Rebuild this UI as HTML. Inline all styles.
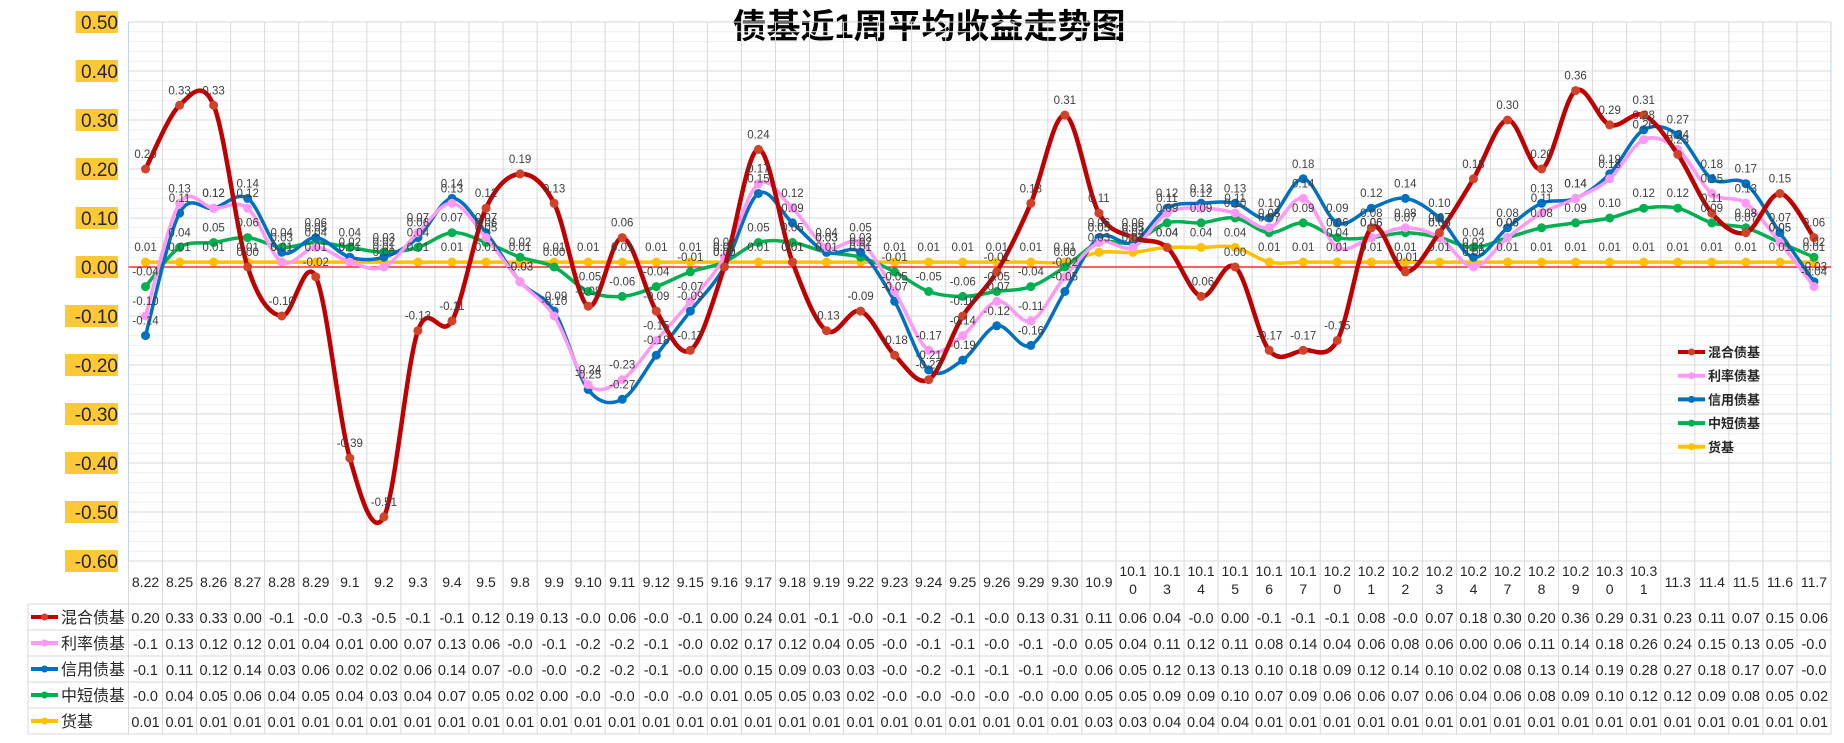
<!DOCTYPE html>
<html><head><meta charset="utf-8">
<style>
html,body{margin:0;padding:0;background:#fff;}
svg{display:block;font-family:"Liberation Sans","Noto Sans CJK SC",sans-serif;}
</style></head>
<body>
<svg id="chart" width="1844" height="743" viewBox="0 0 1844 743" xmlns="http://www.w3.org/2000/svg">
<text x="929" y="38" text-anchor="middle" font-size="34" font-weight="bold" fill="#000">债基近1周平均收益走势图</text>
<g id="grid"></g><g id="yaxis"></g><g id="lines"></g><g id="labels"></g><g id="table"></g><g id="legend"></g>
</svg>
<script>
const categories=["8.22","8.25","8.26","8.27","8.28","8.29","9.1","9.2","9.3","9.4","9.5","9.8","9.9","9.10","9.11","9.12","9.15","9.16","9.17","9.18","9.19","9.22","9.23","9.24","9.25","9.26","9.29","9.30","10.9","10.10","10.13","10.14","10.15","10.16","10.17","10.20","10.21","10.22","10.23","10.24","10.27","10.28","10.29","10.30","10.31","11.3","11.4","11.5","11.6","11.7"];
const seriesNames=["混合债基","利率债基","信用债基","中短债基","货基"];
const hybrid=[0.20,0.33,0.33,0.00,-0.10,-0.02,-0.39,-0.51,-0.13,-0.11,0.12,0.19,0.13,-0.08,0.06,-0.09,-0.17,0.00,0.24,0.01,-0.13,-0.09,-0.18,-0.23,-0.10,-0.01,0.13,0.31,0.11,0.06,0.04,-0.06,0.00,-0.17,-0.17,-0.15,0.08,-0.01,0.07,0.18,0.30,0.20,0.36,0.29,0.31,0.23,0.11,0.07,0.15,0.06];
const rate=[-0.10,0.13,0.12,0.12,0.01,0.04,0.01,0.00,0.07,0.13,0.06,-0.03,-0.10,-0.24,-0.23,-0.15,-0.07,0.02,0.17,0.12,0.04,0.05,-0.05,-0.17,-0.14,-0.07,-0.11,-0.02,0.05,0.04,0.11,0.12,0.11,0.08,0.14,0.04,0.06,0.08,0.06,0.00,0.06,0.11,0.14,0.18,0.26,0.24,0.15,0.13,0.05,-0.04];
const credit=[-0.14,0.11,0.12,0.14,0.03,0.06,0.02,0.02,0.06,0.14,0.07,-0.03,-0.09,-0.25,-0.27,-0.18,-0.09,0.00,0.15,0.09,0.03,0.03,-0.07,-0.21,-0.19,-0.12,-0.16,-0.05,0.06,0.05,0.12,0.13,0.13,0.10,0.18,0.09,0.12,0.14,0.10,0.02,0.08,0.13,0.14,0.19,0.28,0.27,0.18,0.17,0.07,-0.03];
const shortTerm=[-0.04,0.04,0.05,0.06,0.04,0.05,0.04,0.03,0.04,0.07,0.05,0.02,0.00,-0.05,-0.06,-0.04,-0.01,0.01,0.05,0.05,0.03,0.02,-0.01,-0.05,-0.06,-0.05,-0.04,0.00,0.05,0.05,0.09,0.09,0.10,0.07,0.09,0.06,0.06,0.07,0.06,0.04,0.06,0.08,0.09,0.10,0.12,0.12,0.09,0.08,0.05,0.02];
const money=[0.01,0.01,0.01,0.01,0.01,0.01,0.01,0.01,0.01,0.01,0.01,0.01,0.01,0.01,0.01,0.01,0.01,0.01,0.01,0.01,0.01,0.01,0.01,0.01,0.01,0.01,0.01,0.01,0.03,0.03,0.04,0.04,0.04,0.01,0.01,0.01,0.01,0.01,0.01,0.01,0.01,0.01,0.01,0.01,0.01,0.01,0.01,0.01,0.01,0.01];
const yTicks=[0.5,0.4,0.3,0.2,0.1,0,-0.1,-0.2,-0.3,-0.4,-0.5,-0.6];

const NS="http://www.w3.org/2000/svg";
const colors=["#C00000","#FF99F5","#0070C0","#00B050","#FFC000"];
const widths=[4.5,3.5,3.5,3.5,3.5];
const allSeries=[hybrid,rate,credit,shortTerm,money];
const slugs=["hybrid-bond","rate-bond","credit-bond","short-term-bond","money-fund"];
const L=128.5,CW=34.05,N=categories.length,R=L+CW*N;
const Y0=267,PX=490; // px per 1.0
function xs(i){return L+CW*(i+0.5);}
function ys(v){return Y0-v*PX;}
function mk(tag,attrs,parent,txt){const e=document.createElementNS(NS,tag);for(const k in attrs)e.setAttribute(k,attrs[k]);if(txt!==undefined)e.textContent=txt;parent.appendChild(e);return e;}
const grid=document.getElementById('grid'),yax=document.getElementById('yaxis'),lines=document.getElementById('lines'),labels=document.getElementById('labels'),table=document.getElementById('table'),legend=document.getElementById('legend');
const yTop=ys(yTicks[0]),yBot=ys(yTicks[yTicks.length-1]);
// minor grid
for(let v=-0.6;v<=0.5001;v+=0.02){const m=mk('line',{x1:L,x2:R,y1:ys(v),y2:ys(v),stroke:'#EFEFEF','stroke-width':1},grid);}
// major grid + y labels
yTicks.forEach(t=>{
  const g=mk('line',{x1:L,x2:R,y1:ys(t),y2:ys(t),stroke:'#D9D9D9','stroke-width':1},grid);
  
  
  const s=t.toFixed(2);
  const w=s.length*10.6;
  const bg=mk('rect',{x:118-w,y:ys(t)-11,width:w,height:22,fill:'#FFC837'},yax);
  
  
  const tx=mk('text',{x:118,y:ys(t)+7,'text-anchor':'end','font-size':19,fill:'#262626'},yax,s);
  
  
});
// vertical grid (plot + table)
const tableTop=yBot, catBottom=604, rowH=26, tableBottom=catBottom+rowH*5;
for(let i=0;i<=N;i++){const x=L+CW*i;const vl=mk('line',{x1:x,x2:x,y1:yTop,y2:tableBottom,stroke:'#D9D9D9','stroke-width':1},grid);}
mk('line',{x1:L,x2:L,y1:yTop,y2:yBot,stroke:'#BDD7EE','stroke-width':1},grid);
mk('line',{x1:R,x2:R,y1:yTop,y2:yBot,stroke:'#BDD7EE','stroke-width':1},grid);
// zero line
const z=mk('line',{x1:L,x2:R,y1:ys(0),y2:ys(0),stroke:'#FF0000','stroke-width':1.3},grid);


// table horizontal lines
[catBottom,catBottom+rowH,catBottom+2*rowH,catBottom+3*rowH,catBottom+4*rowH,tableBottom].forEach((y,k)=>{mk('line',{x1:k===0?28:L,x2:R,y1:y,y2:y,stroke:'#D9D9D9','stroke-width':1},table);});
mk('line',{x1:28,x2:R,y1:catBottom,y2:catBottom,stroke:'#D9D9D9'},table);
for(let k=0;k<=5;k++){mk('line',{x1:28,x2:L,y1:catBottom+rowH*k,y2:catBottom+rowH*k,stroke:'#D9D9D9'},table);}
mk('line',{x1:28,x2:28,y1:catBottom,y2:tableBottom,stroke:'#D9D9D9'},table);
// categories
categories.forEach((c,i)=>{
  const x=xs(i);
  if(c.length>4){
    const t=mk('text',{x:x,y:576,'text-anchor':'middle','font-size':14,fill:'#262626'},table);
    
    
    mk('tspan',{x:x,dy:0},t,c.slice(0,4));mk('tspan',{x:x,dy:18},t,c.slice(4));
  } else {
    const t=mk('text',{x:x,y:587,'text-anchor':'middle','font-size':14,fill:'#262626'},table,c);
    
    
  }
});
// smooth path
function pathFor(d){
  const p=d.map((v,i)=>[xs(i),ys(v)]);
  let s='M'+p[0][0]+','+p[0][1];
  for(let i=0;i<p.length-1;i++){
    const p0=p[i-1]||p[i],p1=p[i],p2=p[i+1],p3=p[i+2]||p2;
    const c1=[p1[0]+(p2[0]-p0[0])/6,p1[1]+(p2[1]-p0[1])/6];
    const c2=[p2[0]-(p3[0]-p1[0])/6,p2[1]-(p3[1]-p1[1])/6];
    s+=' C'+c1[0]+','+c1[1]+' '+c2[0]+','+c2[1]+' '+p2[0]+','+p2[1];
  }
  return s;
}
// draw series (back to front: money first)
for(let s=4;s>=0;s--){
  const d=allSeries[s];
  const g=mk('g',{},lines);
  
  
  const path=mk('path',{d:pathFor(d),fill:'none',stroke:colors[s],'stroke-width':widths[s],'stroke-linejoin':'round'},g);
  
  
  d.forEach((v,i)=>{
    const c=mk('circle',{cx:xs(i),cy:ys(v),r:s===0?4.5:4.5,fill:s===0?'#D0432A':colors[s]},g);
    
    
    const t=mk('text',{x:xs(i),y:ys(v)-11,'text-anchor':'middle','font-size':11.5,fill:'#404040'},labels,v.toFixed(2));
    
    
  });
}
// table rows
seriesNames.forEach((n,s)=>{
  const yc=catBottom+rowH*s+rowH/2;
  const g=mk('g',{},table);
  
  
  mk('line',{x1:31,x2:58,y1:yc,y2:yc,stroke:colors[s],'stroke-width':4},g);
  mk('circle',{cx:44.5,cy:yc,r:3.5,fill:s===0?'#D0432A':colors[s]},g);
  const h=mk('text',{x:61,y:yc+6,'font-size':16,fill:'#262626'},g,n);
  
  
  allSeries[s].forEach((v,i)=>{
    const t=mk('text',{x:xs(i),y:yc+6,'text-anchor':'middle','font-size':14.5,fill:'#262626'},g,v.toFixed(2).slice(0,4));
    
    
  });
});
// legend
seriesNames.forEach((n,s)=>{
  const y=352+s*23.7;
  const g=mk('g',{},legend);
  
  
  mk('line',{x1:1678,x2:1705,y1:y,y2:y,stroke:colors[s],'stroke-width':4},g);
  mk('circle',{cx:1691.5,cy:y,r:3.5,fill:s===0?'#D0432A':colors[s]},g);
  mk('text',{x:1708,y:y+5,'font-size':13,'font-weight':'bold',fill:'#262626'},g,n);
});
</script>
</body></html>
